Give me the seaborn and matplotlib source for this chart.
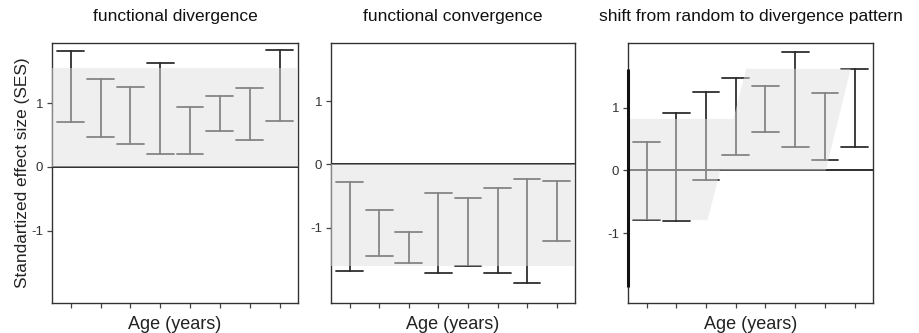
import numpy as np
import pandas as pd
import matplotlib
matplotlib.use("Agg")
import matplotlib.pyplot as plt
import seaborn as sns

# ---------------- data ----------------
age_classes = ["1", "2", "3", "4", "5", "6", "7", "8"]

titles = ["functional divergence", "functional convergence",
          "shift from random to divergence pattern"]

div_lo = [0.71, 0.47, 0.36, 0.21, 0.21, 0.56, 0.42, 0.73]
div_hi = [1.82, 1.38, 1.26, 1.64, 0.95, 1.11, 1.24, 1.84]

conv_lo = [-1.68, -1.45, -1.55, -1.71, -1.60, -1.72, -1.87, -1.21]
conv_hi = [-0.28, -0.72, -1.07, -0.455, -0.53, -0.376, -0.228, -0.254]

shift_lo = [-0.79, -0.81, -0.15, 0.245, 0.62, 0.37, 0.17, 0.37]
shift_hi = [0.45, 0.92, 1.255, 1.47, 1.34, 1.89, 1.23, 1.62]

# null-model envelopes (grey bands)
div_band = (0.0, 1.56)
conv_band = (-1.60, 0.0)
shift_band_low_x = [-0.7, 2.05, 2.92, -0.7]
shift_band_low_y = [-0.79, -0.79, 0.82, 0.82]
shift_band_high_x = [2.48, 3.35, 6.87, 6.03]
shift_band_high_y = [0.0, 1.62, 1.62, 0.0]

yticks = [-1, 0, 1]

# ---------------- build long table ----------------
rows = []
for name, lo, hi in [("div", div_lo, div_hi), ("conv", conv_lo, conv_hi),
                     ("shift", shift_lo, shift_hi)]:
    for a, l, h in zip(age_classes, lo, hi):
        rows.append({"panel": name, "age": a, "ses": l})
        rows.append({"panel": name, "age": a, "ses": h})
df = pd.DataFrame(rows)

sns.set_theme(style="white")
plt.rcParams["font.family"] = ["Liberation Sans", "DejaVu Sans"]

fig = plt.figure(figsize=(9.2, 3.33), dpi=100)
W, H = 920, 333
boxes = [(52, 298), (331, 575), (628, 873)]
top_px, bot_px = 43, 303
ylims = [(-2.14, 1.95), (-2.19, 1.92), (-2.11, 2.03)]
xlim = (-0.63, 7.62)

dark = "#2e2e2e"
band_col = "#e0e0e0"
band_alpha = 0.49

panels = ["div", "conv", "shift"]
axes = []
for i, (l, r) in enumerate(boxes):
    ax = fig.add_axes([l / W, (H - bot_px) / H, (r - l) / W, (bot_px - top_px) / H])
    axes.append(ax)
    sub = df[df.panel == panels[i]]
    sns.pointplot(data=sub, x="age", y="ses", order=age_classes,
                  estimator="mean", errorbar=lambda v: (v.min(), v.max()),
                  capsize=0.9, color=dark, linestyle="none", marker="",
                  err_kws={"linewidth": 1.3}, ax=ax)
    ax.axhline(0, color=dark, lw=1.4, zorder=1)

    if panels[i] == "div":
        ax.axhspan(div_band[0], div_band[1], color=band_col, alpha=band_alpha,
                   lw=0, zorder=3)
    elif panels[i] == "conv":
        ax.axhspan(conv_band[0], conv_band[1], color=band_col, alpha=band_alpha,
                   lw=0, zorder=3)
    else:
        ax.fill(shift_band_low_x, shift_band_low_y, color=band_col,
                alpha=band_alpha, lw=0, zorder=3)
        ax.fill(shift_band_high_x, shift_band_high_y, color=band_col,
                alpha=band_alpha, lw=0, zorder=3)
        ax.plot([xlim[0], xlim[0]], [-1.85, 1.61], color="#111111", lw=2.2,
                solid_capstyle="butt", clip_on=False, zorder=5)

    ax.set_xlim(*xlim)
    ax.set_ylim(*ylims[i])
    ax.set_yticks(yticks)
    ax.set_yticklabels([str(t) for t in yticks])
    ax.set_xticks(range(len(age_classes)))
    ax.set_xticklabels([""] * len(age_classes))
    ax.tick_params(axis="both", which="both", direction="out", length=3.5,
                   width=0.9, color="#444444", labelsize=9.5, labelcolor="#333333",
                   pad=3, bottom=True, left=True)
    for s in ax.spines.values():
        s.set_color("#333333")
        s.set_linewidth(1.0)
    ax.set_xlabel("Age (years)", fontsize=13, color="#222222", labelpad=3)
    ax.set_ylabel("")
    ax.set_title(titles[i], fontsize=12.5, color="#111111", pad=16)

axes[0].set_ylabel("Standartized effect size (SES)", fontsize=12.4,
                   color="#222222", labelpad=1)

fig.savefig("out.png", dpi=100)
